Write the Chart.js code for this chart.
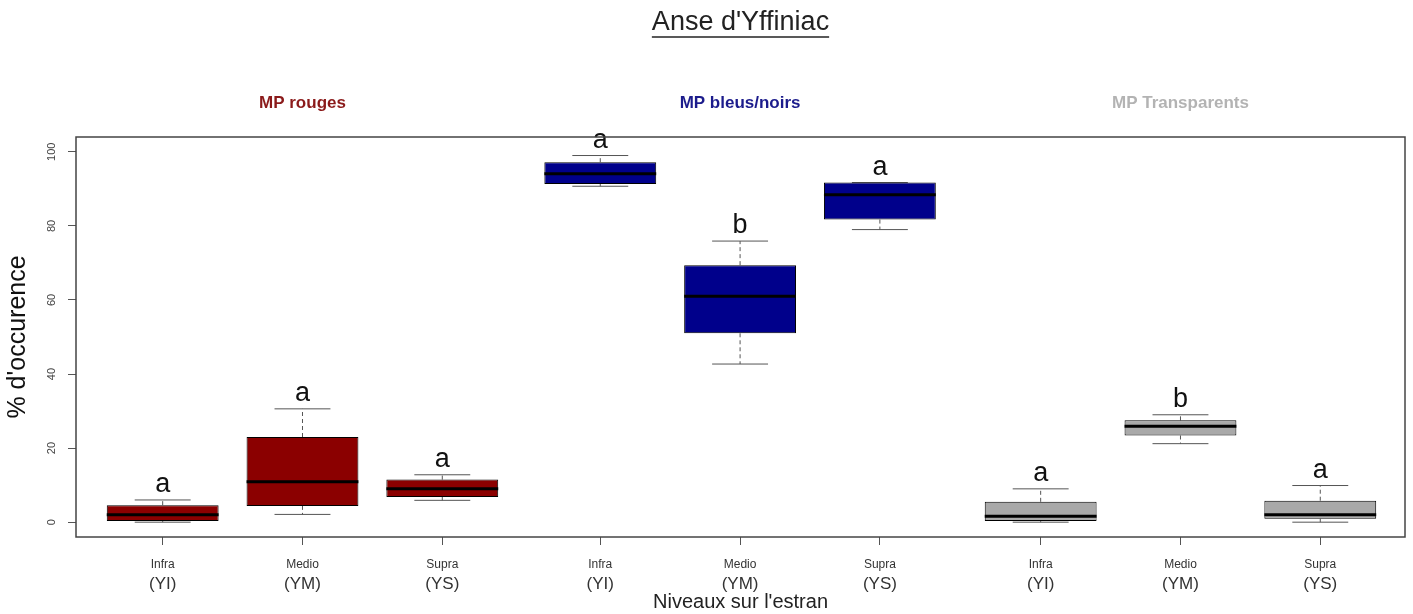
<!DOCTYPE html>
<html>
<head>
<meta charset="utf-8">
<script src="https://cdn.jsdelivr.net/npm/chart.js@4.4.0/dist/chart.umd.min.js"></script>
<style>
  body { margin: 0; background: #fff; }
  #wrap { width: 1413px; height: 614px; }
</style>
</head>
<body>
<div id="wrap"><canvas id="box-chart"></canvas></div>
<script>
// Anse d'Yffiniac - occurrence of MP colours per shore level
const groups = ["MP rouges", "MP bleus/noirs", "MP Transparents"];
const levels = ["Infra", "Medio", "Supra"];
const codes = ["(YI)", "(YM)", "(YS)"];
const positions = [1, 2, 3, 4.13, 5.13, 6.13, 7.28, 8.28, 9.28];
const whiskerLow = [0, 2.1, 5.9, 90.7, 42.7, 79.0, 0, 21.2, 0];
const q1 = [0.3, 4.4, 6.8, 91.3, 51.0, 81.7, 0.3, 23.4, 0.9];
const medians = [2.0, 10.9, 9.0, 94.1, 61.0, 88.4, 1.6, 25.9, 2.0];
const q3 = [4.6, 23.0, 11.5, 97.2, 69.4, 91.7, 5.5, 27.5, 5.8];
const whiskerHigh = [6.0, 30.6, 12.8, 99.0, 75.9, 91.7, 9.0, 29.0, 9.9];
const letters = ["a", "a", "a", "a", "b", "a", "a", "b", "a"];
const yTicks = [0, 20, 40, 60, 80, 100];

const FONT = "'Liberation Sans', Arial, sans-serif";
const boxColors = ["#8b0000", "#00008b", "#a9a9a9"];
const titleColors = ["#8b1a1a", "#1c1c8c", "#b3b3b3"];

function seg(ctx, x1, y1, x2, y2) {
    ctx.beginPath();
    ctx.moveTo(x1, y1);
    ctx.lineTo(x2, y2);
    ctx.stroke();
}

const boxExtras = {
    id: 'boxExtras',
    beforeDatasetsDraw(chart) {
        const { ctx, scales: { y } } = chart;
        ctx.save();
        chart.getDatasetMeta(0).data.forEach((bar, i) => {
            const x = bar.x, half = bar.width / 4;
            ctx.strokeStyle = '#555';
            ctx.lineWidth = 1;
            ctx.setLineDash([4, 3]);
            seg(ctx, x, y.getPixelForValue(q3[i]), x, y.getPixelForValue(whiskerHigh[i]));
            seg(ctx, x, y.getPixelForValue(q1[i]), x, y.getPixelForValue(whiskerLow[i]));
            ctx.setLineDash([]);
            seg(ctx, x - half, y.getPixelForValue(whiskerHigh[i]), x + half, y.getPixelForValue(whiskerHigh[i]));
            seg(ctx, x - half, y.getPixelForValue(whiskerLow[i]), x + half, y.getPixelForValue(whiskerLow[i]));
        });
        ctx.restore();
    },
    afterDatasetsDraw(chart) {
        const { ctx, scales: { x, y } } = chart;
        ctx.save();
        chart.getDatasetMeta(0).data.forEach((bar, i) => {
            const w = bar.width / 2;
            ctx.strokeStyle = '#000';
            ctx.lineWidth = 3;
            seg(ctx, bar.x - w, y.getPixelForValue(medians[i]), bar.x + w, y.getPixelForValue(medians[i]));
            ctx.fillStyle = '#111';
            ctx.font = '27px ' + FONT;
            ctx.textAlign = 'center';
            ctx.textBaseline = 'alphabetic';
            ctx.fillText(letters[i], bar.x, y.getPixelForValue(whiskerHigh[i]) - 8);
        });
        // group headings over the middle box of each group
        ctx.font = 'bold 17px ' + FONT;
        ctx.textBaseline = 'middle';
        groups.forEach((g, k) => {
            ctx.fillStyle = titleColors[k];
            ctx.fillText(g, x.getPixelForValue(positions[k * 3 + 1]), 103);
        });
        ctx.restore();
    },
    afterDraw(chart) {
        const { ctx, chartArea: a } = chart;
        ctx.save();
        ctx.strokeStyle = '#444';
        ctx.lineWidth = 1.5;
        ctx.strokeRect(a.left, a.top, a.right - a.left, a.bottom - a.top);
        // underline the main title
        const t = chart.titleBlock;
        ctx.font = '27px ' + FONT;
        const tw = ctx.measureText(t.options.text).width;
        const cx = (t.left + t.right) / 2;
        ctx.strokeStyle = '#222';
        ctx.lineWidth = 1.5;
        seg(ctx, cx - tw / 2, 37, cx + tw / 2, 37);
        ctx.restore();
    }
};

const xRange = { min: 0.38, max: 9.886 };
function setPositionTicks(scale) {
    scale.ticks = positions.map(v => ({ value: v }));
}

new Chart(document.getElementById("box-chart"), {
    type: 'bar',
    data: {
        datasets: [{
            data: positions.map((p, i) => ({ x: p, y: [q1[i], q3[i]] })),
            backgroundColor: positions.map((p, i) => boxColors[Math.floor(i / 3)]),
            borderColor: '#000',
            borderWidth: 1,
            borderSkipped: false,
            categoryPercentage: 1,
            barPercentage: 0.8
        }]
    },
    options: {
        responsive: true,
        maintainAspectRatio: false,
        animation: false,
        layout: { padding: { left: 0, right: 8, top: 0, bottom: 0 } },
        plugins: {
            legend: { display: false },
            tooltip: { enabled: false },
            title: {
                display: true,
                text: "Anse d'Yffiniac",
                fullSize: false,
                color: '#222',
                font: { family: FONT, size: 27, weight: 'normal' },
                padding: { top: 6, bottom: 98.6 }
            }
        },
        scales: {
            x: {
                type: 'linear',
                position: 'bottom',
                weight: 0,
                offset: false,
                min: xRange.min,
                max: xRange.max,
                afterBuildTicks: setPositionTicks,
                afterFit: scale => { scale.height = 34; },
                grid: { display: true, offset: false, drawOnChartArea: false, tickLength: 8, color: '#555' },
                border: { display: false },
                ticks: {
                    autoSkip: false,
                    maxRotation: 0,
                    padding: 12,
                    color: '#333',
                    font: { family: FONT, size: 12 },
                    callback: (v, i) => levels[i % 3]
                }
            },
            x2: {
                type: 'linear',
                position: 'bottom',
                weight: 1,
                offset: false,
                min: xRange.min,
                max: xRange.max,
                afterBuildTicks: setPositionTicks,
                afterFit: scale => { scale.height = 43; },
                grid: { display: false, offset: false, drawTicks: false },
                border: { display: false },
                ticks: {
                    autoSkip: false,
                    maxRotation: 0,
                    padding: 3,
                    color: '#333',
                    font: { family: FONT, size: 17 },
                    callback: (v, i) => codes[i % 3]
                },
                title: {
                    display: true,
                    text: "Niveaux sur l'estran",
                    color: '#222',
                    font: { family: FONT, size: 20 },
                    padding: { top: 0, bottom: 0 }
                }
            },
            y: {
                min: -4,
                max: 104,
                afterBuildTicks: scale => { scale.ticks = yTicks.map(v => ({ value: v })); },
                afterFit: scale => { scale.width = 76; },
                grid: { display: true, drawOnChartArea: false, tickLength: 8, color: '#555' },
                border: { display: false },
                ticks: {
                    autoSkip: false,
                    minRotation: 90,
                    maxRotation: 90,
                    crossAlign: 'center',
                    padding: 7,
                    color: '#444',
                    font: { family: FONT, size: 11 }
                },
                title: {
                    display: true,
                    text: "% d'occurence",
                    color: '#111',
                    font: { family: FONT, size: 25 },
                    padding: { top: 3, bottom: 0 }
                }
            }
        }
    },
    plugins: [boxExtras]
});
</script>
</body>
</html>
